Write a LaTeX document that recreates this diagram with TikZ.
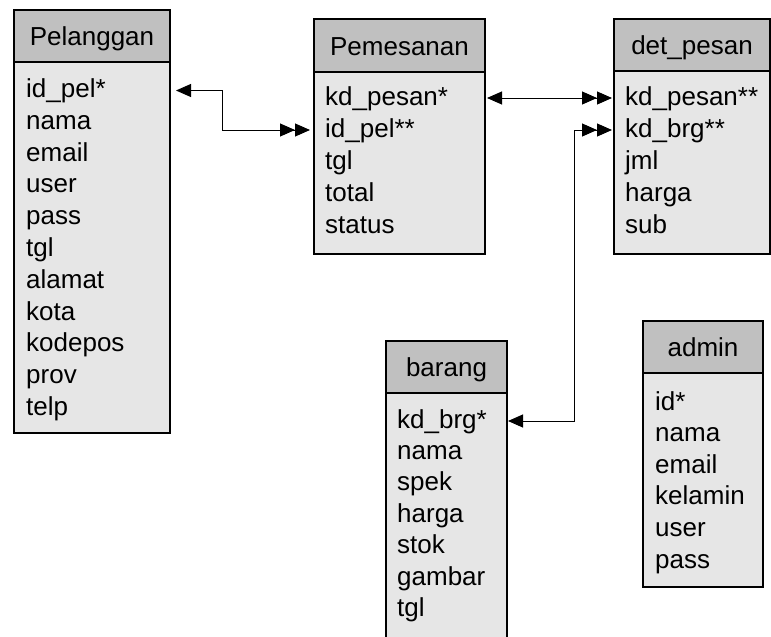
\documentclass[tikz,border=0pt]{standalone}
\usepackage{fontspec}
\setmainfont{Liberation Sans}
\usetikzlibrary{arrows.meta}
\definecolor{headgray}{RGB}{192,192,192}
\definecolor{bodygray}{RGB}{230,230,230}
\tikzset{
  tblhead/.style={draw, line width=1.5pt, fill=headgray, anchor=north west,
    inner sep=0pt, outer sep=0pt, text height=19pt, text depth=0pt,
    font=\fontsize{26}{30}\selectfont},
  tblbody/.style={draw, line width=1.5pt, fill=bodygray, anchor=north west,
    inner sep=0pt, outer sep=0pt},
  field/.style={anchor=base west, inner sep=0pt, text height=19pt, text depth=5pt,
    font=\fontsize{26}{30}\selectfont},
  onemany/.style={line width=1pt,
    {Triangle[length=15pt,width=13pt]}-{Triangle[length=15pt,width=13pt]Triangle[length=15pt,width=13pt]}},
}
\begin{document}
\begin{tikzpicture}[x=1pt,y=-1pt]
   \useasboundingbox (0,0) rectangle (771,637);

   % Pelanggan
   \node[tblhead, minimum width=156pt, minimum height=52pt] (pelhead) at (14,10) {Pelanggan};
   \node[tblbody, minimum width=156pt, minimum height=371pt] (pelbody) at (14,62) {};
   \foreach \f [count=\i] in {id\_pel*,nama,email,user,pass,tgl,alamat,kota,kodepos,prov,telp}
      \node[field] (pel\i) at (26,{97.5+31.8*(\i-1)}) {\f};

   % Pemesanan
   \node[tblhead, minimum width=171pt, minimum height=53pt] (peshead) at (314,19) {Pemesanan};
   \node[tblbody, minimum width=171pt, minimum height=182pt] (pesbody) at (314,72) {};
   \foreach \f [count=\i] in {kd\_pesan*,id\_pel**,tgl,total,status}
      \node[field] (pes\i) at (325,{105+32*(\i-1)}) {\f};

   % det_pesan
   \node[tblhead, minimum width=156pt, minimum height=52pt] (dethead) at (614,19) {det\_pesan};
   \node[tblbody, minimum width=156pt, minimum height=183pt] (detbody) at (614,71) {};
   \foreach \f [count=\i] in {kd\_pesan**,kd\_brg**,jml,harga,sub}
      \node[field] (det\i) at (625,{105+32*(\i-1)}) {\f};

   % barang
   \node[tblhead, minimum width=121pt, minimum height=52pt] (brghead) at (386,341) {barang};
   \node[tblbody, minimum width=121pt, minimum height=260pt] (brgbody) at (386,393) {};
   \foreach \f [count=\i] in {kd\_brg*,nama,spek,harga,stok,gambar,tgl}
      \node[field] (brg\i) at (397,{428+31.4*(\i-1)}) {\f};

   % admin
   \node[tblhead, minimum width=120pt, minimum height=52pt] (admhead) at (643,321) {admin};
   \node[tblbody, minimum width=120pt, minimum height=214pt] (admbody) at (643,373) {};
   \foreach \f [count=\i] in {id*,nama,email,kelamin,user,pass}
      \node[field] (adm\i) at (655,{410+31.6*(\i-1)}) {\f};

   % relasi
   \draw[onemany] ([xshift=6pt]pelbody.east |- pel1) -- ++(46,0)
      |- ([xshift=-4pt]pesbody.west |- pes2);
   \draw[onemany] ([xshift=2pt]pesbody.east |- pes1) -- ([xshift=-2pt]detbody.west |- det1);
   \draw[onemany] ([xshift=1pt]brgbody.east |- brg1) -- ++(66,0)
      |- ([xshift=-2pt]detbody.west |- det2);

 \end{tikzpicture}
\end{document}
